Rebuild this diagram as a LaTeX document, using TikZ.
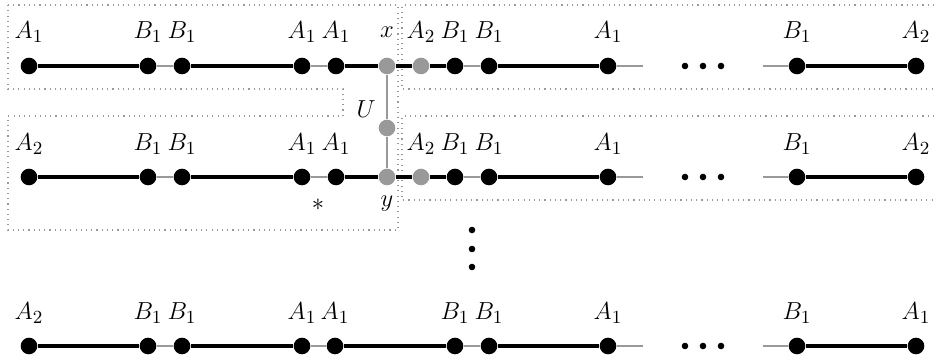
\documentclass[tikz,border=0pt]{standalone}
\begin{document}
\begin{tikzpicture}[x=0.4875pt,y=-0.4875pt,
  font=\fontsize{12.5}{15}\selectfont,
  bdot/.style={circle,fill=black,inner sep=0pt,minimum size=8.1pt},
  gdot/.style={circle,fill=black!40,inner sep=0pt,minimum size=8.1pt},
  sdot/.style={circle,fill=black,inner sep=0pt,minimum size=3.2pt},
  blk/.style={line width=1.6pt,black},
  gry/.style={line width=0.7pt,black!40},
  lab/.style={anchor=base,inner sep=0pt},
  boxline/.style={dotted,line width=0.55pt,black!40}]
\useasboundingbox (0,0) rectangle (934,358);
% dotted regions
\draw[boxline] (8,5) -- (398,5) -- (398,230) -- (8,230) -- (8,116) -- (343,116) -- (343,89) -- (8,89) -- cycle;
\draw[boxline] (934,5) -- (402,5) -- (402,89) -- (934,89);
\draw[boxline] (934,116) -- (402,116) -- (402,200) -- (934,200);
% rows 1 and 2
\foreach \r/\yy/\lb in {1/66/39, 2/177/150.5}{
  \node[bdot] (r\r a1) at (29,\yy) {};
  \node[bdot] (r\r a2) at (148,\yy) {};
  \node[bdot] (r\r a3) at (182,\yy) {};
  \node[bdot] (r\r a4) at (302,\yy) {};
  \node[bdot] (r\r a5) at (336,\yy) {};
  \node[gdot] (r\r a6) at (387,\yy) {};
  \node[gdot] (r\r a7) at (421,\yy) {};
  \node[bdot] (r\r a8) at (455,\yy) {};
  \node[bdot] (r\r a9) at (489,\yy) {};
  \node[bdot] (r\r a10) at (608,\yy) {};
  \node[bdot] (r\r a11) at (797,\yy) {};
  \node[bdot] (r\r a12) at (916,\yy) {};
  \coordinate (r\r e1) at (643,\yy);
  \coordinate (r\r e2) at (763,\yy);
  \draw[blk] (r\r a1) -- (r\r a2) (r\r a3) -- (r\r a4) (r\r a5) -- (r\r a6) -- (r\r a7) -- (r\r a8)
             (r\r a9) -- (r\r a10) (r\r a11) -- (r\r a12);
  \draw[gry] (r\r a2) -- (r\r a3) (r\r a4) -- (r\r a5) (r\r a8) -- (r\r a9)
             (r\r a10) -- (r\r e1) (r\r e2) -- (r\r a11);
  \node[sdot] (r\r d1) at (685,\yy) {};
  \node[sdot] (r\r d2) at (703,\yy) {};
  \node[sdot] (r\r d3) at (721,\yy) {};
  \node[lab] (r\r l2) at (148,\lb) {$B_1$};
  \node[lab] (r\r l3) at (182,\lb) {$B_1$};
  \node[lab] (r\r l4) at (302,\lb) {$A_1$};
  \node[lab] (r\r l5) at (336,\lb) {$A_1$};
  \node[lab] (r\r l7) at (421,\lb) {$A_2$};
  \node[lab] (r\r l8) at (455,\lb) {$B_1$};
  \node[lab] (r\r l9) at (489,\lb) {$B_1$};
  \node[lab] (r\r l10) at (608,\lb) {$A_1$};
  \node[lab] (r\r l11) at (797,\lb) {$B_1$};
  \node[lab] (r\r l12) at (916,\lb) {$A_2$};
}
\node[lab] (r1l1) at (29,39) {$A_1$};
\node[lab] (r2l1) at (29,150.5) {$A_2$};
\node[lab] (xl) at (387,37.5) {$x$};
\node[lab] (yl) at (387,207) {$y$};
\node (star) at (318,205) {$*$};
% U connector
\node[gdot] (u) at (387,128) {};
\draw[gry] (r1a6) -- (u) -- (r2a6);
\node[lab] (ul) at (366,118) {$U$};
% vertical dots
\node[sdot] (v1) at (472,230) {};
\node[sdot] (v2) at (472,249) {};
\node[sdot] (v3) at (472,267) {};
% row 3
\foreach \i/\xx/\t in {1/29/A_2, 2/148/B_1, 3/182/B_1, 4/302/A_1, 5/335/A_1, 6/455/B_1, 7/489/B_1, 8/608/A_1, 9/797/B_1, 10/916/A_1}{
  \node[bdot] (r3a\i) at (\xx,346) {};
  \node[lab] (r3l\i) at (\xx,319.5) {$\t$};
}
\coordinate (r3e1) at (643,346);
\coordinate (r3e2) at (763,346);
\draw[blk] (r3a1) -- (r3a2) (r3a3) -- (r3a4) (r3a5) -- (r3a6) (r3a7) -- (r3a8) (r3a9) -- (r3a10);
\draw[gry] (r3a2) -- (r3a3) (r3a4) -- (r3a5) (r3a6) -- (r3a7) (r3a8) -- (r3e1) (r3e2) -- (r3a9);
\node[sdot] (r3d1) at (685,346) {};
\node[sdot] (r3d2) at (703,346) {};
\node[sdot] (r3d3) at (721,346) {};
\end{tikzpicture}
\end{document}
